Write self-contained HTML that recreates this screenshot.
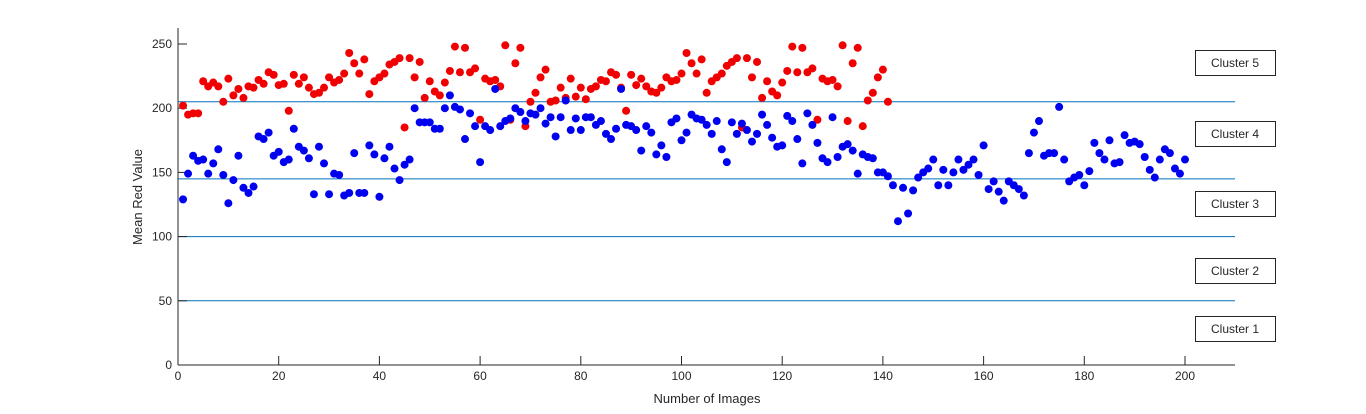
<!DOCTYPE html>
<html><head><meta charset="utf-8"><style>
body{margin:0;background:#fff;width:1366px;height:409px;overflow:hidden;font-family:"Liberation Sans",Arial,sans-serif}
svg text{font-family:"Liberation Sans",Arial,sans-serif;fill:#262626}
</style></head><body>
<svg id="chart" width="1366" height="409" xmlns="http://www.w3.org/2000/svg"></svg>
<script>
const redValues=[202,195,196,196,221,217,220,217,205,223,210,215,208,217,216,222,219,228,226,218,219,198,226,219,224,216,211,212,216,224,220,222,227,243,235,227,238,211,221,224,227,234,236,239,185,239,224,236,208,221,213,210,220,229,248,228,247,228,231,191,223,221,222,217,249,191,235,247,186,205,212,224,230,205,206,216,208,223,209,216,207,215,217,222,221,228,226,216,198,226,218,223,217,213,212,216,224,221,222,227,243,235,227,238,212,221,224,227,233,236,239,185,239,224,236,208,221,213,210,220,229,248,228,247,228,231,191,223,221,222,217,249,190,235,247,186,206,212,224,230,205];
const blueValues=[129,149,163,159,160,149,157,168,148,126,144,163,138,134,139,178,176,181,163,166,158,160,184,170,167,161,133,170,157,133,149,148,132,134,165,134,134,171,164,131,161,170,153,144,156,160,200,189,189,189,184,184,200,210,201,199,176,196,186,158,186,183,215,186,190,192,200,197,190,196,195,200,188,193,178,193,206,183,192,183,193,193,187,190,180,176,184,215,187,186,183,167,186,181,164,171,162,189,192,175,181,195,192,191,187,180,190,168,158,189,180,188,183,174,180,195,187,177,170,171,194,190,176,157,196,187,173,161,158,193,162,170,172,167,149,164,162,161,150,150,147,140,112,138,118,136,146,150,153,160,140,152,140,150,160,152,156,160,148,171,137,143,135,128,143,140,137,132,165,181,190,163,165,165,201,160,143,146,148,140,151,173,165,160,175,157,158,179,173,174,172,162,152,146,160,168,165,153,149,160];
const xTicks=[0,20,40,60,80,100,120,140,160,180,200];
const yTicks=[0,50,100,150,200,250];
const thresholds=[50,100,145,205];
const clusterLabels=["Cluster 5","Cluster 4","Cluster 3","Cluster 2","Cluster 1"];
const clusterBoxY=[50,121,191,258,316];

const svg=document.getElementById('chart');
const NS='http://www.w3.org/2000/svg';
const X0=178,X1=1235,Y0=365;
const sx=v=>X0+v*(1185-178)/200;
const sy=v=>Y0-v*(365-44)/250;
function mk(t,a){const e=document.createElementNS(NS,t);for(const k in a)e.setAttribute(k,a[k]);svg.appendChild(e);return e;}

thresholds.forEach(t=>{
 const l=mk('line',{x1:X0,x2:X1,y1:sy(t),y2:sy(t),stroke:'#0072BD','stroke-width':1});
 
 
});
const ya=mk('line',{x1:X0,x2:X0,y1:28,y2:Y0,stroke:'#262626'});


const xa=mk('line',{x1:X0,x2:X1,y1:Y0,y2:Y0,stroke:'#262626'});


xTicks.forEach(t=>{
 mk('line',{x1:sx(t),x2:sx(t),y1:Y0,y2:Y0-9,stroke:'#262626'});
 const tx=mk('text',{x:sx(t),y:Y0+15,'text-anchor':'middle','font-size':12});
 tx.textContent=t;
 
 
});
yTicks.forEach(t=>{
 mk('line',{x1:X0,x2:X0+9,y1:sy(t),y2:sy(t),stroke:'#262626'});
 const tx=mk('text',{x:X0-6,y:sy(t)+4,'text-anchor':'end','font-size':12});
 tx.textContent=t;
 
 
});
redValues.forEach((v,i)=>{
 const c=mk('circle',{cx:sx(i+1),cy:sy(v),r:4,fill:'#f00000'});
 
 
});
blueValues.forEach((v,i)=>{
 const c=mk('circle',{cx:sx(i+1),cy:sy(v),r:4,fill:'#0000f0'});
 
 
});
clusterLabels.forEach((s,i)=>{
 const r=mk('rect',{x:1195.5,y:clusterBoxY[i]+0.5,width:80,height:25,fill:'#fff',stroke:'#262626'});
 
 
 const t=mk('text',{x:1235,y:clusterBoxY[i]+17,'text-anchor':'middle','font-size':12});
 t.textContent=s;
 
 
});
const xl=mk('text',{x:707,y:403,'text-anchor':'middle','font-size':13});
xl.textContent='Number of Images';


const yl=mk('text',{x:142,y:197,'text-anchor':'middle','font-size':13,transform:'rotate(-90 142 197)'});
yl.textContent='Mean Red Value';


</script>
</body></html>
